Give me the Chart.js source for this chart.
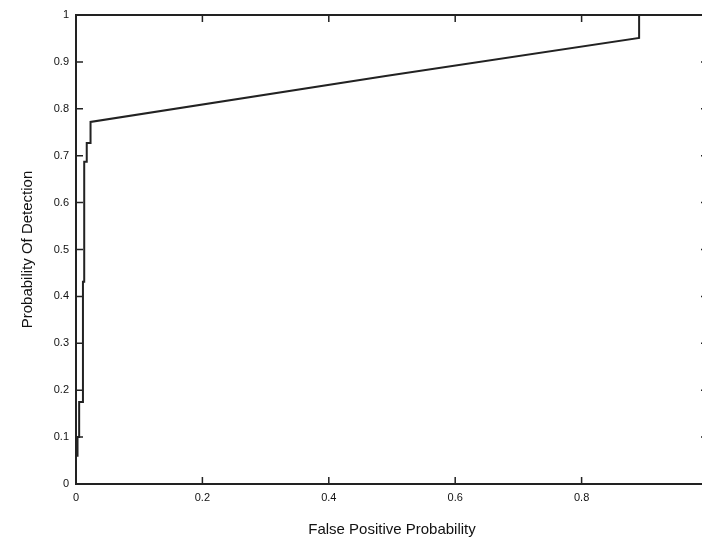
<!DOCTYPE html>
<html>
<head>
<meta charset="utf-8">
<script src="https://cdn.jsdelivr.net/npm/chart.js@4/dist/chart.umd.min.js"></script>
<style>
  html, body { margin: 0; padding: 0; overflow: hidden; background: #fff; width: 702px; height: 540px; }
  #rocChart { display: block; position: absolute; left: 0; top: 0; }
</style>
</head>
<body>
<canvas id="rocChart" width="712" height="540"></canvas>
<script>
// ROC curve (corner points of the steps)
var fpr = [0, 0, 0.0024, 0.0024, 0.005, 0.005, 0.011, 0.011, 0.013, 0.013, 0.017, 0.017, 0.023, 0.023, 0.49, 0.891, 0.891, 1];
var tpr = [0, 0.06, 0.06, 0.10, 0.10, 0.175, 0.175, 0.431, 0.431, 0.687, 0.687, 0.727, 0.727, 0.772, 0.870, 0.951, 1, 1];

var xTickStep = 0.2;
var yTickStep = 0.1;

var xTitle = 'False Positive Probability';
var yTitle = 'Probability Of Detection';

var fontFamily = '"Liberation Sans", Arial, Helvetica, sans-serif';

// matlab style box with inward ticks on all four sides
var frameTicks = {
    id: 'frameTicks',
    afterDraw: function(chart) {
        var ctx = chart.ctx;
        var a = chart.chartArea;
        var xs = chart.scales.x;
        var ys = chart.scales.y;
        var len = 7;
        ctx.save();
        ctx.strokeStyle = '#222';
        ctx.lineWidth = 1.5;
        ctx.beginPath();
        xs.ticks.forEach(function(t) {
            var px = xs.getPixelForValue(t.value);
            ctx.moveTo(px, a.bottom); ctx.lineTo(px, a.bottom - len);
            ctx.moveTo(px, a.top); ctx.lineTo(px, a.top + len);
        });
        ys.ticks.forEach(function(t) {
            var py = ys.getPixelForValue(t.value);
            ctx.moveTo(a.left, py); ctx.lineTo(a.left + len, py);
            ctx.moveTo(a.right, py); ctx.lineTo(a.right - len, py);
        });
        ctx.stroke();
        ctx.lineWidth = 2;
        ctx.strokeRect(a.left, a.top, a.right - a.left, a.bottom - a.top);
        ctx.restore();
    }
};

document.addEventListener('DOMContentLoaded', function() {
    var ctx = document.getElementById('rocChart').getContext('2d');

    var points = fpr.map(function(v, i) { return { x: v, y: tpr[i] }; });

    new Chart(ctx, {
        type: 'scatter',
        data: {
            datasets: [{
                data: points,
                showLine: true,
                borderColor: '#222',
                borderWidth: 2,
                pointRadius: 0,
                tension: 0,
                fill: false
            }]
        },
        options: {
            responsive: false,
            animation: false,
            devicePixelRatio: 1,
            // the canvas is a bit wider than the window so the right edge of the box is cut off
            layout: { padding: { top: 15, right: 4, left: 0, bottom: 0 } },
            plugins: {
                legend: { display: false },
                tooltip: { enabled: false }
            },
            scales: {
                x: {
                    type: 'linear',
                    min: 0,
                    max: 1,
                    grid: { display: false, drawTicks: false },
                    border: { display: false },
                    ticks: {
                        stepSize: xTickStep,
                        padding: 7,
                        color: '#111',
                        font: { family: fontFamily, size: 11 },
                        maxRotation: 0,
                        // the "1" label falls outside the picture
                        callback: function(v) { return v >= 1 ? '' : String(+v.toFixed(1)); }
                    },
                    title: {
                        display: true,
                        text: xTitle,
                        color: '#111',
                        font: { family: fontFamily, size: 15 },
                        padding: { top: 0, bottom: 1 }
                    },
                    afterFit: function(s) {
                        s.height = 56;
                        s.paddingLeft = 0;
                        s.paddingRight = 0;
                    }
                },
                y: {
                    type: 'linear',
                    min: 0,
                    max: 1,
                    grid: { display: false, drawTicks: false },
                    border: { display: false },
                    ticks: {
                        stepSize: yTickStep,
                        padding: 7,
                        color: '#111',
                        font: { family: fontFamily, size: 11 },
                        callback: function(v) { return String(+v.toFixed(1)); }
                    },
                    title: {
                        display: true,
                        text: yTitle,
                        color: '#111',
                        font: { family: fontFamily, size: 15 },
                        padding: { top: 19, bottom: 0 }
                    },
                    afterFit: function(s) { s.width = 76; }
                }
            }
        },
        plugins: [frameTicks]
    });
});
</script>
</body>
</html>
